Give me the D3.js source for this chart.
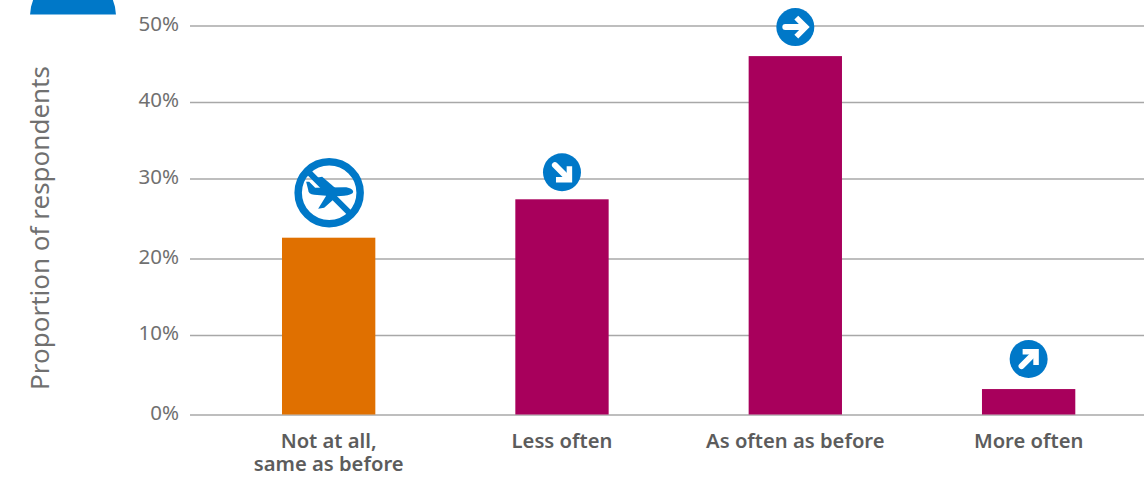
<!DOCTYPE html>
<html>
<head>
<meta charset="utf-8">
<script src="https://cdn.jsdelivr.net/npm/d3@7"></script>
<style>
html,body{margin:0;padding:0;background:#fff;overflow:hidden}
svg{display:block}
text{font-family:"Noto Sans","Open Sans",sans-serif}
</style>
</head>
<body>
<svg id="c" width="1144" height="483"></svg>
<script>
const categories = ["Not at all,|same as before", "Less often", "As often as before", "More often"];
const values = [22.6, 27.4, 46, 3.2];
const barColors = ["#e07000", "#a8005c", "#a8005c", "#a8005c"];
const yTicks = [0, 10, 20, 30, 40, 50];
const tickPixels = [414.5, 335, 258.5, 178.5, 102, 25.5];
const icons = ["none", "down", "right", "up"];
const axisTitle = "Proportion of respondents";

const BLUE = "#0078c8";
const svg = d3.select("#c");

const x = d3.scaleBand().domain(categories).range([212, 1145.3]).paddingInner(0.6).paddingOuter(0.3);
const y = d3.scaleLinear().domain(yTicks).range(tickPixels);

svg.append("clipPath").attr("id", "cap").append("rect").attr("x", 0).attr("y", 0).attr("width", 200).attr("height", 14.5);
svg.append("circle").attr("cx", 73).attr("cy", 16).attr("r", 43).attr("fill", BLUE).attr("clip-path", "url(#cap)");

const gy = svg.append("g").attr("transform", "translate(190,0)")
  .call(d3.axisLeft(y).tickValues(yTicks).tickSize(-954).tickPadding(11).tickFormat(d => d + "%"));
gy.select(".domain").remove();
gy.selectAll(".tick line").attr("stroke", "#a8a8a8").attr("stroke-width", 1.4);
gy.selectAll(".tick text").attr("fill", "#707070").attr("font-size", 20.5).attr("dy", "0.24em");

svg.append("text").attr("transform", "translate(49,228) rotate(-90)")
  .attr("text-anchor", "middle").attr("font-size", 26).attr("fill", "#707070").text(axisTitle);

svg.append("g").selectAll("rect").data(categories).join("rect")
  .attr("x", d => x(d)).attr("width", x.bandwidth())
  .attr("y", (d, i) => y(values[i])).attr("height", (d, i) => y(0) - y(values[i]))
  .attr("fill", (d, i) => barColors[i]);

const gx = svg.append("g").attr("transform", `translate(0,${y(0)})`)
  .call(d3.axisBottom(x).tickSize(0).tickFormat(""));
gx.select(".domain").remove();
gx.selectAll(".tick").each(function (d) {
  const t = d3.select(this).select("text").attr("y", 0).attr("dy", null)
    .attr("fill", "#5c5c5c").attr("font-size", 20.2).attr("font-weight", 600).attr("text-anchor", "middle");
  t.text(null);
  d.split("|").forEach((line, i) => t.append("tspan").attr("x", 0).attr("y", 33 + i * 23.5).text(line));
});

const iconG = svg.append("g");
categories.forEach((c, i) => {
  const cx = x(c) + x.bandwidth() / 2;
  const top = y(values[i]);
  if (icons[i] === "none") {
    const g = iconG.append("g").attr("transform", `translate(${cx + 0.5},${top - 45})`);
    g.append("circle").attr("r", 31).attr("fill", "none").attr("stroke", BLUE).attr("stroke-width", 7.5);
    g.append("path").attr("fill", BLUE)
      .attr("d", "M-23,-11 L-20,-11 L-14,-5 L15,-5.5 C21,-5.5 24,-3 24,-1 C24,1 20,2.5 15,3 L8,3.5 L-5,15 L-11,16 L-3,3 L-15,2 C-19,1.5 -21,0 -21,-3 Z");
    g.append("path").attr("fill", BLUE).attr("d", "M-13,-15 L-7,-16 L7,-4 L-4,-4 Z");
    g.append("line").attr("x1", -23).attr("y1", -23).attr("x2", 23).attr("y2", 23).attr("stroke", BLUE).attr("stroke-width", 6);
  } else {
    const angle = { down: 45, right: 0, up: -45 }[icons[i]];
    const dy = { down: 27, right: 29, up: 30 }[icons[i]];
    const g = iconG.append("g").attr("transform", `translate(${cx},${top - dy})`);
    g.append("circle").attr("r", 19).attr("fill", BLUE);
    const a = g.append("g").attr("transform", `rotate(${angle})`);
    a.append("line").attr("x1", -10).attr("y1", 0).attr("x2", 8).attr("y2", 0)
      .attr("stroke", "#fff").attr("stroke-width", 6).attr("stroke-linecap", "round");
    a.append("path").attr("d", "M1,-9.5 L10.5,0 L1,9.5").attr("fill", "none")
      .attr("stroke", "#fff").attr("stroke-width", 5.5).attr("stroke-linejoin", "miter");
  }
});
</script>
</body>
</html>
